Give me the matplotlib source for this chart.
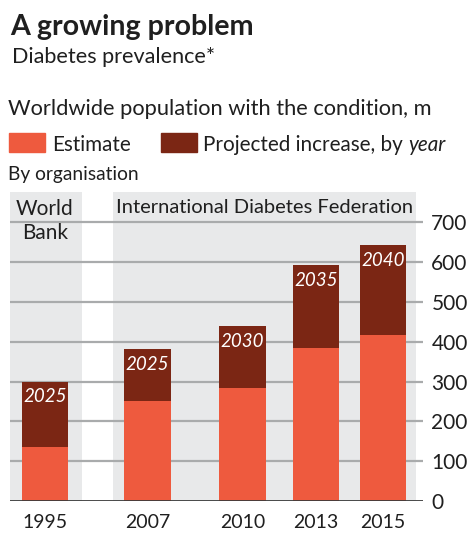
import matplotlib
matplotlib.use("Agg")
import matplotlib.pyplot as plt

# values, millions of people
years = ["1995", "2007", "2010", "2013", "2015"]
estimate = [136, 252, 285, 383, 416]
total = [300, 381, 440, 592, 642]
projection_year = ["2025", "2025", "2030", "2035", "2040"]
y_ticks = [0, 100, 200, 300, 400, 500, 600, 700]

increase = [t - e for t, e in zip(total, estimate)]

W, H = 474, 549
FONT = "Lato"
RED = "#ee5a3e"
DARK = "#7b2614"
PANEL = "#e8e9ea"
GRID = "#a9abac"
INK = "#1f1f1f"

plt.rcParams["font.family"] = [FONT, "DejaVu Sans"]

fig = plt.figure(figsize=(W / 100, H / 100), dpi=100)
fig.patch.set_facecolor("white")


def px(x, y):
    """pixel position (from top left) -> figure fraction"""
    return x / W, 1 - y / H


def fit(t, width_px):
    """scale a text's font size so it spans width_px"""
    r = fig.canvas.get_renderer()
    bb = t.get_window_extent(r)
    t.set_fontsize(t.get_fontsize() * width_px / bb.width)
    return t


# plot area spans the grey panels; x axis in pixel-like units
ax = fig.add_axes([10 / W, 48 / H, 413 / W, 309 / H])
ax.set_xlim(10, 423)
ax.set_ylim(0, 776)
bar_x = [45, 147.5, 242.5, 316, 383]
bar_w = 46.5

ax.axvspan(10, 82, color=PANEL, zorder=0, lw=0)
ax.axvspan(113, 416, color=PANEL, zorder=0, lw=0)
for t in y_ticks[1:]:
    ax.axhline(t, color=GRID, lw=1.6, zorder=1)
ax.axhline(0, color="#3a3a3a", lw=2, zorder=4)

ax.bar(bar_x, estimate, width=bar_w, color=RED, zorder=3, lw=0)
ax.bar(bar_x, increase, bottom=estimate, width=bar_w, color=DARK, zorder=3, lw=0)

for x, top, lbl in zip(bar_x, total, projection_year):
    ax.annotate(lbl, (x, top), xytext=(0, -11), textcoords="offset points",
                ha="center", va="center", color="white", style="italic",
                fontsize=13.5, zorder=5)

ax.yaxis.tick_right()
ax.set_yticks(y_ticks, [str(t) for t in y_ticks])
ax.set_xticks(bar_x, years)
ax.tick_params(axis="y", length=0, pad=6, labelsize=15, labelcolor=INK)
ax.tick_params(axis="x", length=0, pad=9, labelsize=14, labelcolor=INK)
for s in ax.spines.values():
    s.set_visible(False)

# organisation labels inside the panels
fig.text(*px(45, 199), "World\nBank", ha="center", va="top", fontsize=15,
         color=INK, linespacing=1.25)
fit(fig.text(*px(265, 199), "International Diabetes Federation", ha="center",
             va="top", fontsize=15, color=INK), 298)

# header
fit(fig.text(*px(10, 35), "A growing problem", fontweight="bold",
             fontsize=20, color=INK, va="baseline"), 243)
fit(fig.text(*px(12, 63), "Diabetes prevalence*", fontsize=15,
             color=INK, va="baseline"), 203)
fit(fig.text(*px(8, 115), "Worldwide population with the condition, m",
             fontsize=16, color=INK, va="baseline"), 427)

# legend
fig.patches.append(plt.Rectangle(px(9, 152), 36 / W, 19 / H, color=RED,
                                 transform=fig.transFigure, figure=fig))
fig.patches.append(plt.Rectangle(px(161, 152), 36 / W, 19 / H, color=DARK,
                                 transform=fig.transFigure, figure=fig))
est = fit(fig.text(*px(52, 151), "Estimate", fontsize=15, color=INK,
                   va="baseline"), 79)
proj = fig.text(*px(203, 151), "Projected increase, by ",
                fontsize=est.get_fontsize(), color=INK, va="baseline")
ax.annotate("year", xy=(1, 0), xycoords=proj, va="bottom", ha="left",
            style="italic", fontsize=est.get_fontsize(), color=INK,
            annotation_clip=False)

fit(fig.text(*px(8, 180), "By organisation", fontsize=12, color=INK,
             va="baseline"), 130)

fig.savefig("out.png", dpi=100)
